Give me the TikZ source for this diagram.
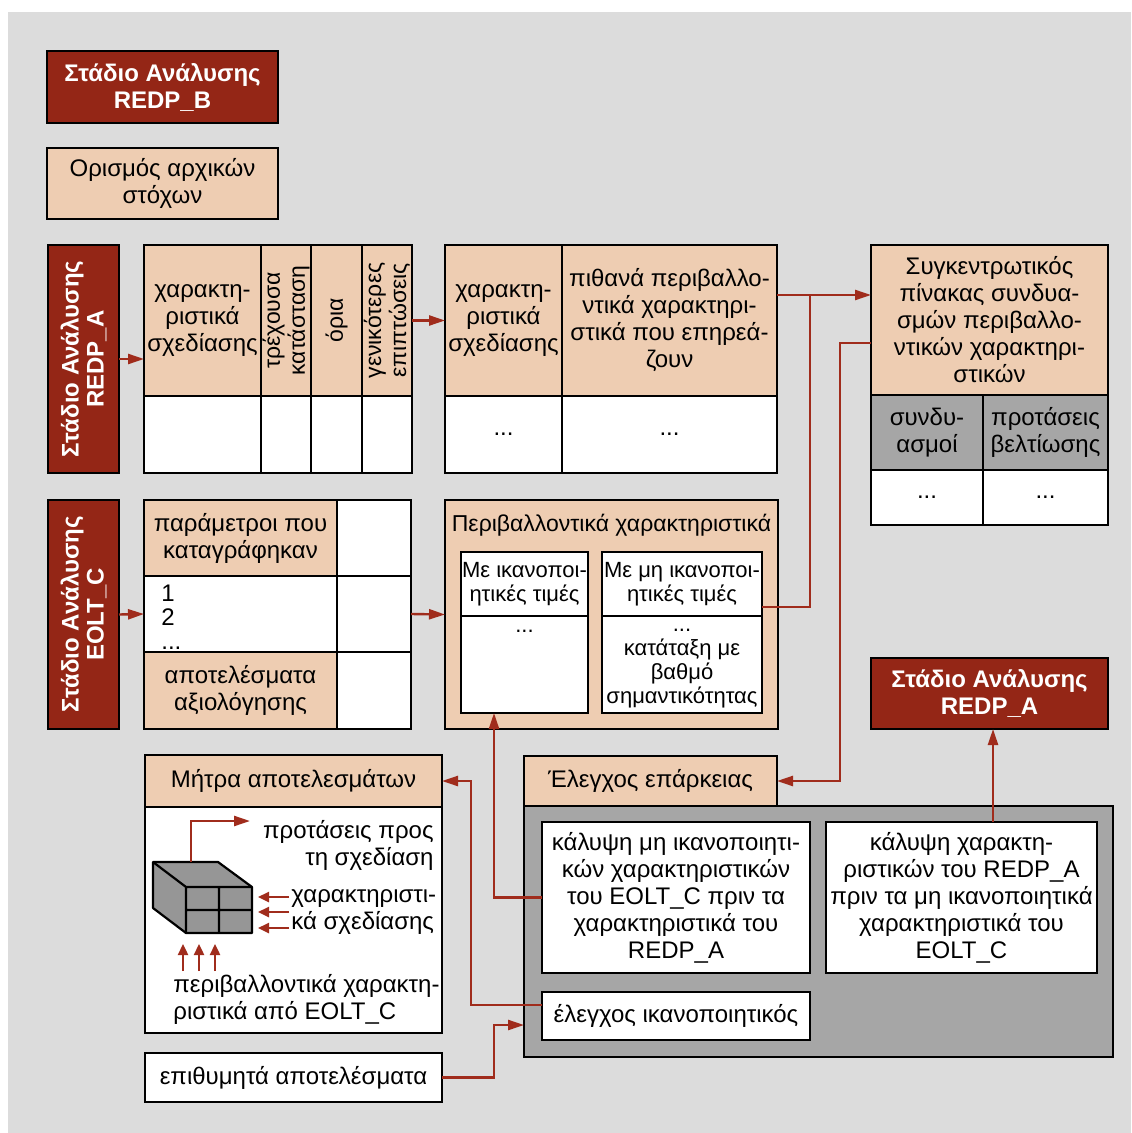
\documentclass[tikz,border=0pt]{standalone}
\usepackage{fontspec}
\setmainfont{Liberation Sans}
\usetikzlibrary{arrows.meta}

\definecolor{stagered}{RGB}{148,38,22}
\definecolor{linkred}{RGB}{160,44,28}
\definecolor{peachc}{RGB}{238,205,178}
\definecolor{bggrey}{RGB}{220,220,220}
\definecolor{greyfill}{RGB}{166,166,166}
\definecolor{cubegrey}{RGB}{150,150,150}

% a rectangular cell given by its corners (x1,y1)-(x2,y2)
\newcommand\cellat[7][plain]{%
  \node[#1, minimum width={(#5-#3)*0.5pt}, minimum height={(#6-#4)*0.5pt}]
    (#2) at ({(#3+#5)/2},{(#4+#6)/2}) {#7};}

\begin{document}
\begin{tikzpicture}[x=0.5pt,y=-0.5pt,
  font=\fontsize{12}{13.5}\selectfont,
  cell/.style={rectangle, draw=black, line width=1.1pt, inner sep=0pt,
    outer sep=0pt, align=center},
  stage/.style={cell, fill=stagered, text=white,
    font=\fontsize{12}{13.5}\selectfont\bfseries},
  peach/.style={cell, fill=peachc},
  plain/.style={cell, fill=white},
  greyc/.style={cell, fill=greyfill},
  small/.style={font=\fontsize{11}{12}\selectfont},
  link/.style={draw=linkred, line width=1.2pt},
  arr/.style={link, -{Triangle[length=8pt,width=5pt]}},
  smallarr/.style={link, -{Triangle[length=5.5pt,width=5pt]}},
  label/.style={inner sep=0pt, align=center}
]
\useasboundingbox (0,0) rectangle (1131,1133);
\fill[white] (0,0) rectangle (1131,1133);
\fill[bggrey] (8,12) rectangle (1131,1133);

% --- left column: stages and goals
\cellat[stage]{stB}{47}{51}{278}{123}{Στάδιο Ανάλυσης\\REDP\_B}
\cellat[peach]{goals}{47}{148}{278}{219}{Ορισμός αρχικών\\στόχων}
\cellat[stage]{stA}{48}{245}{119}{473}{}
\node[label, rotate=90, text=white, font=\fontsize{12}{12.5}\selectfont\bfseries]
  at (stA) {Στάδιο Ανάλυσης\\REDP\_A};
\cellat[stage]{stC}{48}{500}{119}{729}{}
\node[label, rotate=90, text=white, font=\fontsize{12}{12.5}\selectfont\bfseries]
  at (stC) {Στάδιο Ανάλυσης\\EOLT\_C};

% --- design characteristics table
\cellat[peach]{t1a}{144}{245}{261}{396}{χαρακτη-\\ριστικά\\σχεδίασης}
\cellat[peach]{t1b}{261}{245}{311}{396}{}
\cellat[peach]{t1c}{311}{245}{362}{396}{}
\cellat[peach]{t1d}{362}{245}{412}{396}{}
\begin{scope}[every node/.append style={font=\fontsize{11.5}{12.5}\selectfont}]
\node[label, rotate=90] at (t1b) {τρέχουσα\\κατάσταση};
\node[label, rotate=90] at (t1c) {όρια};
\node[label, rotate=90] at (t1d) {γενικότερες\\επιπτώσεις};
\end{scope}
\cellat{t1e}{144}{396}{261}{473}{}
\cellat{t1f}{261}{396}{311}{473}{}
\cellat{t1g}{311}{396}{362}{473}{}
\cellat{t1h}{362}{396}{412}{473}{}

% --- design vs environmental characteristics
\cellat[peach]{t2a}{445}{245}{562}{396}{χαρακτη-\\ριστικά\\σχεδίασης}
\cellat[peach]{t2b}{562}{245}{777}{396}{πιθανά περιβαλλο-\\ντικά χαρακτηρι-\\στικά που επηρεά-\\ζουν}
\cellat{t2c}{445}{396}{562}{473}{...}
\cellat{t2d}{562}{396}{777}{473}{...}

% --- summary table
\cellat[peach]{sumh}{871}{245}{1108}{395}{Συγκεντρωτικός\\πίνακας συνδυα-\\σμών περιβαλλο-\\ντικών χαρακτηρι-\\στικών}
\cellat[greyc]{sumg1}{871}{395}{983}{470}{συνδυ-\\ασμοί}
\cellat[greyc]{sumg2}{983}{395}{1108}{470}{προτάσεις\\βελτίωσης}
\cellat{sumw1}{871}{470}{983}{525}{...}
\cellat{sumw2}{983}{470}{1108}{525}{...}

% --- recorded parameters table
\cellat[peach]{t3a}{144}{500}{337}{576}{παράμετροι που\\καταγράφηκαν}
\cellat{t3b}{337}{500}{411}{576}{}
\cellat{t3c}{144}{576}{337}{652}{}
\node[label, anchor=west, align=left, font=\fontsize{12}{12}\selectfont]
  at (161,617) {1\\2\\...};
\cellat{t3d}{337}{576}{411}{652}{}
\cellat[peach]{t3e}{144}{652}{337}{729}{αποτελέσματα\\αξιολόγησης}
\cellat{t3f}{337}{652}{411}{729}{}

% --- environmental characteristics
\cellat[peach]{env}{445}{500}{778}{729}{}
\node[label, font=\fontsize{11.5}{13}\selectfont] at (611.5,525) {Περιβαλλοντικά χαρακτηριστικά};
\cellat[plain,small]{env1h}{461}{552}{588}{616}{Με ικανοποι-\\ητικές τιμές}
\cellat{env1b}{461}{616}{588}{713}{}
\node[label, small] at (524.5,631) {...};
\cellat[plain,small]{env2h}{602}{552}{762}{616}{Με μη ικανοποι-\\ητικές τιμές}
\cellat[plain,small]{env2b}{602}{616}{762}{713}{}
\node[label, small] at ([shift={(0,4)}]env2b.center) {...\\κατάταξη με\\βαθμό\\σημαντικότητας};

\cellat[stage]{stA2}{871}{658}{1108}{729}{Στάδιο Ανάλυσης\\REDP\_A}

% --- results matrix
\cellat[peach]{math}{145}{755}{442}{807}{Μήτρα αποτελεσμάτων}
\cellat{matb}{145}{807}{442}{1033}{}
\cellat{want}{145}{1053}{442}{1102}{επιθυμητά αποτελέσματα}

% cube of the matrix
\filldraw[fill=cubegrey, line width=1.1pt, line join=round]
  (153,862) -- (218,862) -- (252,887) -- (252,933) -- (186,933) -- (153,908) -- cycle;
\draw[line width=1.1pt, line join=round] (153,862) -- (186,887) -- (252,887)
  (186,887) -- (186,933) (219,887) -- (219,933) (186,910) -- (252,910);
\draw[arr] (191,862) -- (191,821) -- (250,821);
\node[label, anchor=east, align=right] at (434,845) {προτάσεις προς\\τη σχεδίαση};
\foreach \yy in {897,912,928} \draw[smallarr] (289,\yy) -- (258,\yy);
\node[label, anchor=west, align=left] at (291,912) {χαρακτηριστι-\\κά σχεδίασης};
\foreach \xx in {183,199,215} \draw[smallarr] (\xx,971) -- (\xx,944);
\node[label, anchor=west, align=left] at (173,999) {περιβαλλοντικά χαρακτη-\\ριστικά από EOLT\_C};

% --- adequacy check
\cellat[peach]{chkh}{524}{756}{777}{806}{Έλεγχος επάρκειας}
\cellat[greyc]{cont}{524}{806}{1113}{1057}{}
\cellat{cov1}{542}{822}{810}{973}{κάλυψη μη ικανοποιητι-\\κών χαρακτηριστικών\\του EOLT\_C πριν τα\\χαρακτηριστικά του\\REDP\_A}
\cellat{cov2}{826}{822}{1097}{973}{κάλυψη χαρακτη-\\ριστικών του REDP\_A\\πριν τα μη ικανοποιητικά\\χαρακτηριστικά του\\EOLT\_C}
\cellat{sat}{542}{992}{810}{1040}{έλεγχος ικανοποιητικός}

% --- connectors
\coordinate (jn) at (810,295);
\draw[arr] (stA.east) -- (stA.east -| t1a.west);
\draw[arr] (t1d.east) -- (t2a.west);
\draw[arr] ([shift={(0,50)}]t2b.north east) -- ([shift={(0,50)}]sumh.north west);
\draw[link] ([shift={(0,-9)}]env2h.south east) -| (jn);
\draw[arr] ([shift={(0,98)}]sumh.north west) -- ++(-31,0) |- (chkh.east);
\draw[arr] (stC.east) -- (t3c.west);
\draw[arr] (t3d.east) -- (env.west);
\draw[arr] ([shift={(31.5,0)}]cov2.north) -- ([shift={(31.5,0)}]cov2.north |- stA2.south);
\draw[arr] (cov1.west) -| ([shift={(-30.5,0)}]env1b.south);
\draw[arr] ([shift={(0,-11)}]sat.west) -- ++(-71,0) |- (math.east);
\draw[arr] (want.east) -- ++(52,0) |- ([shift={(0,219)}]cont.north west);
\end{tikzpicture}
\end{document}
